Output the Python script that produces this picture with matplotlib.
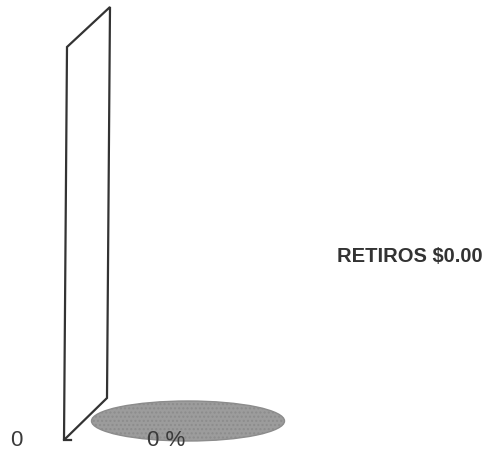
import matplotlib.pyplot as plt
from matplotlib.patches import Ellipse, Polygon

plt.rcParams["font.family"] = ["Liberation Sans", "DejaVu Sans"]

# datos del grafico (un solo concepto, todo en cero)
categories = ["RETIROS"]
amounts = [0.00]
percents = [0]
axis_ticks = [0]

W, H = 491, 455

fig = plt.figure(figsize=(W / 100, H / 100), dpi=100)
ax = fig.add_axes([0, 0, 1, 1])
ax.set_xlim(0, W)
ax.set_ylim(H, 0)
ax.axis("off")

# pared del eje en perspectiva
wall = Polygon(
    [(67, 47), (110, 7), (107, 398), (64, 440)],
    closed=True,
    fill=False,
    edgecolor="#333333",
    linewidth=1.6,
    joinstyle="miter",
)
ax.add_patch(wall)
# punta en la esquina inferior
ax.plot([64, 71], [440, 440], color="#333333", lw=1.6)

# "pastel" plano (valor cero)
pie = Ellipse(
    (188, 421),
    width=193,
    height=40,
    facecolor="#9c9c9c",
    edgecolor="#8c8c8c",
    linewidth=1,
    hatch="....",
)
ax.add_patch(pie)

for tick in axis_ticks:
    ax.text(16, 440, f"{tick}", fontsize=16, color="#3a3a3a", ha="center", va="center")

for cat, amt, pct in zip(categories, amounts, percents):
    ax.text(166, 441, f"{pct} %", fontsize=16, color="#3a3a3a", ha="center", va="center")
    ax.text(
        410,
        256,
        f"{cat} ${amt:.2f}",
        fontsize=14.5,
        fontweight="bold",
        color="#333333",
        ha="center",
        va="center",
    )

fig.savefig("out.png", dpi=100, facecolor="white")
